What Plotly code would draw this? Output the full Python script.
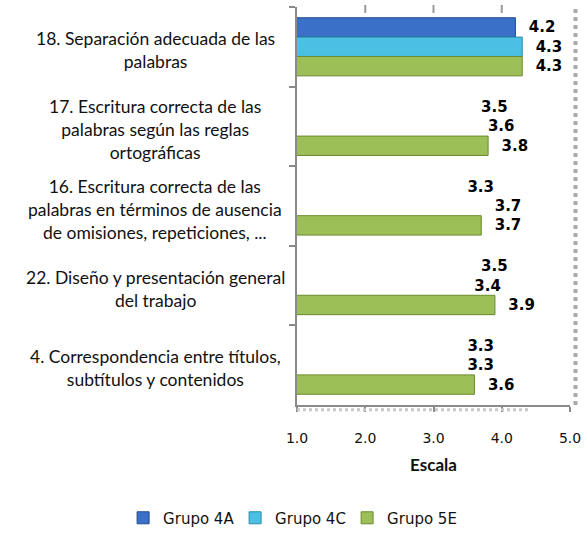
import plotly.graph_objects as go

categories = [
    "18. Separación adecuada de las<br>palabras",
    "17. Escritura correcta de las<br>palabras según las reglas<br>ortográficas",
    "16. Escritura correcta de las<br>palabras en términos de ausencia<br>de omisiones, repeticiones, ...",
    "22. Diseño y presentación general<br>del trabajo",
    "4. Correspondencia entre títulos,<br>subtítulos y contenidos",
]
series_names = ["Grupo 4A", "Grupo 4C", "Grupo 5E"]
grupo_4a = [4.2, 3.5, 3.3, 3.5, 3.3]
grupo_4c = [4.3, 3.6, 3.7, 3.4, 3.3]
grupo_5e = [4.3, 3.8, 3.7, 3.9, 3.6]
x_ticks = [1, 2, 3, 4, 5]

colors = ["#3a70c8", "#4cc0e4", "#9dbf58"]
line_colors = ["#1f4a8c", "#2a8bab", "#6a8a2e"]
# Only the first category shows bars for 4A and 4C in the reference
visible_mask = [[True, False, False, False, False],
                [True, False, False, False, False],
                [True, True, True, True, True]]

fig = go.Figure()
for i, (name, vals) in enumerate(zip(series_names, [grupo_4a, grupo_4c, grupo_5e])):
    fills = [colors[i] if v else "rgba(0,0,0,0)" for v in visible_mask[i]]
    lines = [line_colors[i] if v else "rgba(0,0,0,0)" for v in visible_mask[i]]
    fig.add_trace(go.Bar(
        name=name, y=categories, x=vals, orientation="h",
        marker=dict(color=fills, line=dict(color=lines, width=1)),
        texttemplate="\u00a0\u00a0%{x:.1f}",
        textposition="outside", cliponaxis=False, constraintext="none",
        textfont=dict(family="DejaVu Sans", size=15, color="black", weight="bold"),
        showlegend=True,
    ))

for c in categories:
    fig.add_annotation(text=c, xref="paper", yref="y", x=-0.52, y=c, yshift=-3,
                       xanchor="center", yanchor="middle", align="center", showarrow=False,
                       font=dict(family="Lato", size=17.5, color="#111"))

fig.update_layout(
    width=584, height=542,
    margin=dict(l=297, r=14, t=7, b=130),
    paper_bgcolor="white", plot_bgcolor="white",
    barmode="group", bargap=0.27, bargroupgap=0,
    legend=dict(orientation="h", xref="paper", yref="paper", x=-0.637, y=-0.284,
                xanchor="left", yanchor="middle", entrywidth=67, entrywidthmode="pixels",
                font=dict(family="DejaVu Sans", size=15, color="#111")),
    xaxis=dict(range=[1, 5], tickvals=x_ticks, ticktext=[f"{t:.1f}" for t in x_ticks],
               showgrid=False, zeroline=False, showline=True, linecolor="#8a8a8a", linewidth=2,
               ticks="outside", ticklen=5, tickcolor="#8a8a8a", tickwidth=2,
               ticklabelstandoff=14, automargin=False, ticklabeloverflow="allow",
               tickfont=dict(family="DejaVu Sans", size=14, color="#111"),
               title=dict(text="Escala", standoff=14.5,
                          font=dict(family="Lato", size=17, color="#111", weight="bold"))),
    yaxis=dict(autorange="reversed", showticklabels=False, showgrid=False, showline=True,
               linecolor="#8a8a8a", linewidth=2, ticks="outside", ticklen=6, automargin=False,
               tickcolor="#8a8a8a", tickwidth=2, tickson="boundaries"),
)
# right wall edge, floor edge and top grid stubs (decoration)
fig.add_shape(type="line", xref="paper", yref="paper", x0=1.02, x1=1.02, y0=0, y1=1.0,
              line=dict(color="#aaaaaa", width=4, dash="dot"))
fig.add_shape(type="line", xref="paper", yref="paper", x0=0.0, x1=0.85, y0=-0.012, y1=-0.012,
              line=dict(color="#c8c8c8", width=3, dash="dot"))
for t in x_ticks[1:4]:
    fig.add_shape(type="line", xref="x", yref="paper", x0=t, x1=t, y0=0.985, y1=1.005,
                  line=dict(color="#999999", width=2))

fig.write_html("out.html", config={"displayModeBar": False},
               post_script="document.body.style.margin='0';")
